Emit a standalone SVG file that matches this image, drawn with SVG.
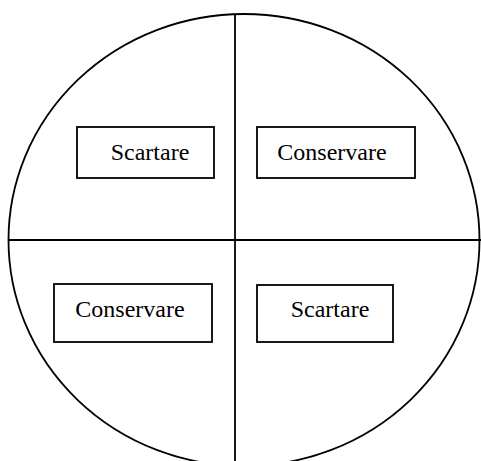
<svg xmlns="http://www.w3.org/2000/svg" width="481" height="461" viewBox="0 0 481 461">
<style>
.ln{fill:none;stroke:#000;stroke-width:1.8}
.bx{fill:#fff;stroke:#000;stroke-width:1.8}
.t{font-family:"Liberation Serif","Times New Roman",serif;font-size:24px;fill:#000;text-anchor:middle}
</style>
<rect width="481" height="461" fill="#fff"/>
<g id="connectors">
<ellipse class="ln" cx="244" cy="240" rx="235.5" ry="226"/>
<line class="ln" x1="235" y1="14" x2="235" y2="461"/>
<line class="ln" x1="8.5" y1="240" x2="481" y2="240"/>
</g>
<g id="n1"><rect class="bx" x="77" y="127" width="137" height="51"/><text class="t" x="150" y="160">Scartare</text></g>
<g id="n2"><rect class="bx" x="257" y="127" width="158" height="51"/><text class="t" x="332" y="160">Conservare</text></g>
<g id="n3"><rect class="bx" x="54" y="284" width="158" height="58"/><text class="t" x="130" y="317">Conservare</text></g>
<g id="n4"><rect class="bx" x="257" y="285" width="136" height="57"/><text class="t" x="330" y="317">Scartare</text></g>
</svg>
